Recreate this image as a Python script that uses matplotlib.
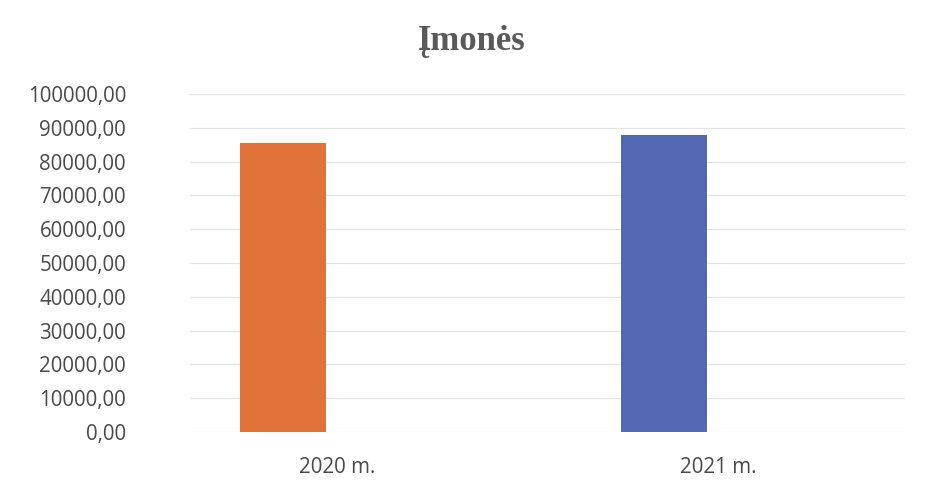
import matplotlib
matplotlib.use("Agg")
import matplotlib.pyplot as plt
import numpy as np
from matplotlib.ticker import FuncFormatter

categories = ["2020 m.", "2021 m."]
values = [85400, 87800]
bar_colors = ["#E1723A", "#5369B3"]
title = "Įmonės"

fig = plt.figure(figsize=(9.28, 4.9), dpi=100)
ax = fig.add_axes([190/928, 1-432/490, (905-190)/928, (432-94)/490])

x = np.arange(len(categories))
offset = -0.142
ax.bar(x + offset, values, width=0.226, color=bar_colors, zorder=3)

ax.set_ylim(0, 100000)
ax.set_yticks(np.arange(0, 100001, 10000))
ax.yaxis.set_major_formatter(FuncFormatter(lambda v, p: f"{v:.2f}".replace(".", ",")))
ax.set_xlim(-0.386, 1.49)
ax.set_xticks(x)
ax.set_xticklabels(categories)

for s in ax.spines.values():
    s.set_visible(False)
ax.tick_params(length=0)
ax.tick_params(axis="y", pad=46, labelsize=14.8, labelcolor="#4a4a4a")
ax.tick_params(axis="x", pad=18, labelsize=14.8, labelcolor="#4a4a4a")
for lab in ax.get_yticklabels() + ax.get_xticklabels():
    lab.set_family("Open Sans")
ax.grid(axis="y", color="#e4e4e4", linewidth=0.9, zorder=0)

fig.text(0.508, 1-42/490, title, ha="center", va="center",
         fontsize=25, fontweight="bold", family="Liberation Serif", color="#5a5a5a")

fig.savefig("out.png", dpi=100)
